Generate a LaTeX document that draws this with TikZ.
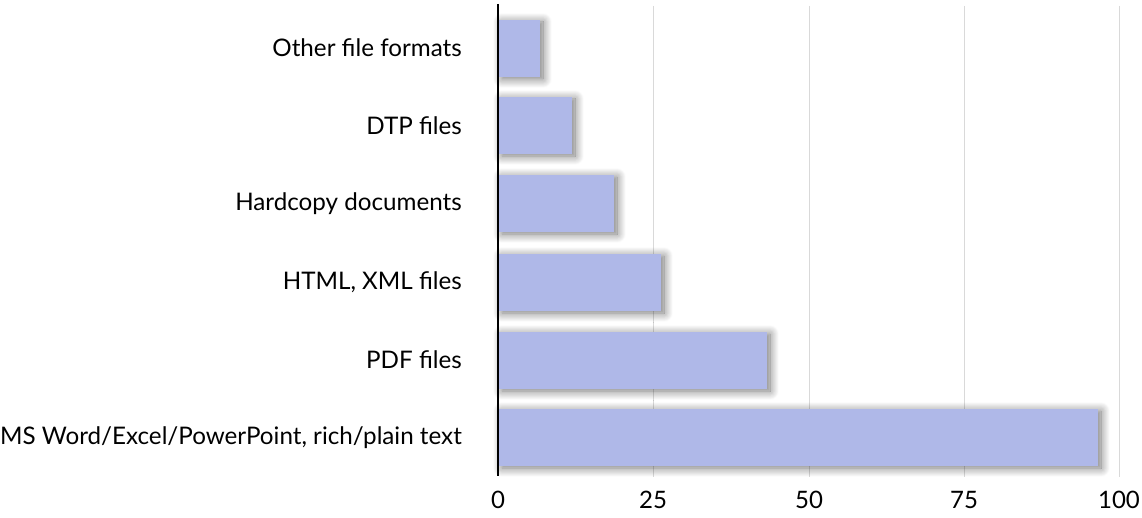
\documentclass[tikz,border=0pt]{standalone}
\usepackage{fontspec}
\setmainfont{Lato}
\usetikzlibrary{shadows.blur}
\definecolor{barc}{HTML}{AFB8E8}
\definecolor{gridc}{HTML}{D9D9D9}
\tikzset{
  bar/.style={fill=barc, draw=none, blur shadow={shadow xshift=3pt, shadow yshift=-2pt, shadow blur radius=9pt, shadow blur steps=12, shadow opacity=55}},
  lab/.style={anchor=east, inner sep=0pt, font=\fontsize{24.2}{28}\selectfont},
  tick/.style={anchor=center, inner sep=0pt, font=\fontsize{24}{28}\selectfont},
  grid/.style={draw=gridc, line width=1pt},
}
\begin{document}
\begin{tikzpicture}[x=1pt,y=-1pt]
\useasboundingbox (0,0) rectangle (1142,518);
% gridlines
\foreach \gx in {653,809,964,1119} \draw[grid] (\gx,6) -- (\gx,477);
% bars
\fill[bar] (499,20) rectangle (540,77);
\fill[bar] (499,97) rectangle (572,154);
\fill[bar] (499,175) rectangle (614,232);
\fill[bar] (499,254) rectangle (661,311);
\fill[bar] (499,332) rectangle (767,389);
\fill[bar] (499,409) rectangle (1098,466);
% axis
\draw[line width=2pt, black] (498,4) -- (498,476);
% labels
\node[lab] (l1) at (462,48) {Other file formats};
\node[lab] (l2) at (462,126) {DTP files};
\node[lab] (l3) at (462,204) {Hardcopy documents};
\node[lab] (l4) at (462,282) {HTML, XML files};
\node[lab] (l5) at (462,360) {PDF files};
\node[lab] (l6) at (462,438) {MS Word/Excel/PowerPoint, rich/plain text};
% ticks
\node[tick] (t0) at (498,500) {0};
\node[tick] (t25) at (653,500) {25};
\node[tick] (t50) at (809,500) {50};
\node[tick] (t75) at (964,500) {75};
\node[tick] (t100) at (1119,500) {100};
\end{tikzpicture}
\end{document}
